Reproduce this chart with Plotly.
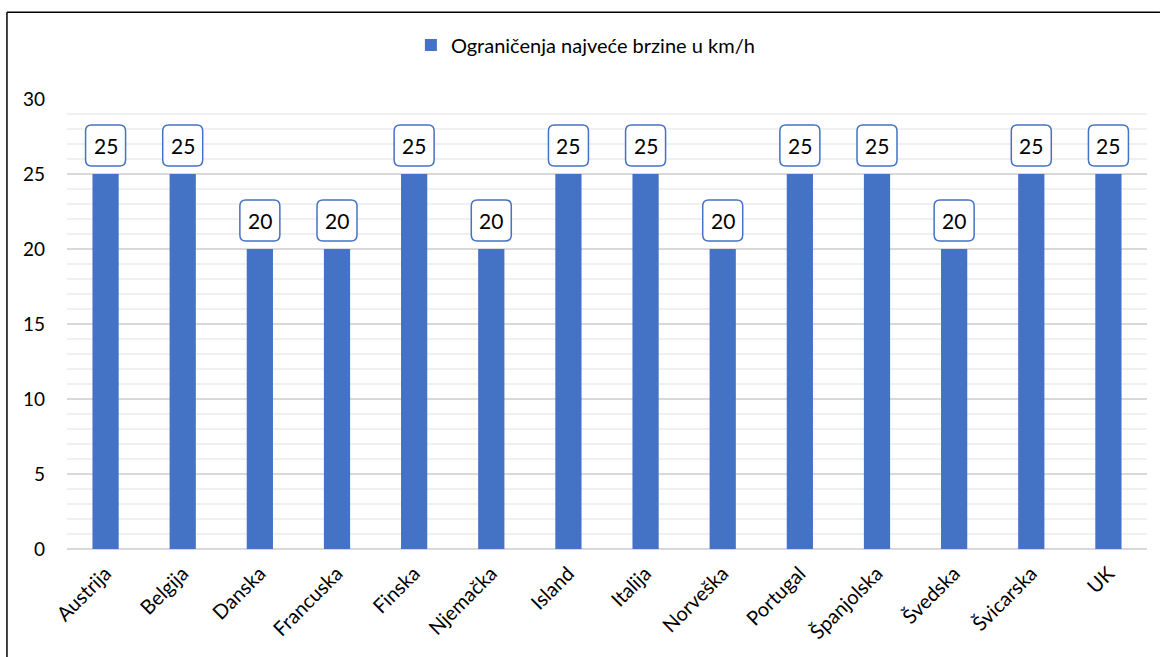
import plotly.graph_objects as go

countries = ["Austrija", "Belgija", "Danska", "Francuska", "Finska", "Njemačka", "Island",
             "Italija", "Norveška", "Portugal", "Španjolska", "Švedska", "Švicarska", "UK"]
speeds = [25, 25, 20, 20, 25, 20, 25, 25, 20, 25, 25, 20, 25, 25]
series_name = "Ograničenja najveće brzine u km/h"

BLUE = "#4472C4"
FONT = "Lato"

fig = go.Figure()
fig.add_trace(go.Bar(x=countries, y=speeds, name=series_name, marker_color=BLUE,
                     marker_line_width=0, showlegend=True))

shapes = []
annotations = []
box_path = ("M -14,8 L 14,8 Q 20,8 20,14 L 20,43 Q 20,49 14,49 L -14,49 "
            "Q -20,49 -20,43 L -20,14 Q -20,8 -14,8 Z")
for c, v in zip(countries, speeds):
    shapes.append(dict(type="path", xref="x", yref="y", xsizemode="pixel", ysizemode="pixel",
                       xanchor=c, yanchor=v, path=box_path,
                       line=dict(color=BLUE, width=1.5), fillcolor="white", layer="above"))
    annotations.append(dict(x=c, y=v, xref="x", yref="y", text=str(v), showarrow=False,
                            yshift=28.5, font=dict(family=FONT, size=21, color="black")))

# chart border (top and left)
shapes.append(dict(type="line", xref="paper", yref="paper", x0=-0.0556, x1=1.012, y0=1.193, y1=1.193,
                   line=dict(color="black", width=1.5)))
shapes.append(dict(type="line", xref="paper", yref="paper", x0=-0.0556, x1=-0.0556, y0=1.193, y1=-0.3,
                   line=dict(color="black", width=1.5)))

fig.update_layout(
    width=1163, height=657,
    margin=dict(l=67, r=16, t=99, b=108, autoexpand=False),
    paper_bgcolor="white", plot_bgcolor="white",
    bargap=0.66,
    font=dict(family=FONT, size=19, color="black"),
    legend=dict(orientation="h", x=0.48, xanchor="center", y=1.12, yanchor="middle",
                bgcolor="rgba(0,0,0,0)",
                font=dict(family=FONT, size=20, color="black"), itemwidth=30),
    shapes=shapes, annotations=annotations,
    xaxis=dict(tickangle=-45, showgrid=False, showline=False, ticks="", automargin=False,
               tickfont=dict(family=FONT, size=20, color="black"), ticklabelstandoff=8),
    yaxis=dict(range=[0, 30], dtick=5, showgrid=True, gridcolor="#d9d9d9", gridwidth=1.5,
               zeroline=True, zerolinecolor="#d9d9d9", zerolinewidth=1.5, automargin=False,
               minor=dict(dtick=1, showgrid=True, gridcolor="#f0f0f0", gridwidth=1.5),
               ticks="", tickfont=dict(family=FONT, size=19, color="black"), ticklabelstandoff=21),
)

fig.write_html("out.html", config={"displayModeBar": False},
               post_script="document.body.style.margin='0';document.body.style.overflow='hidden';")
